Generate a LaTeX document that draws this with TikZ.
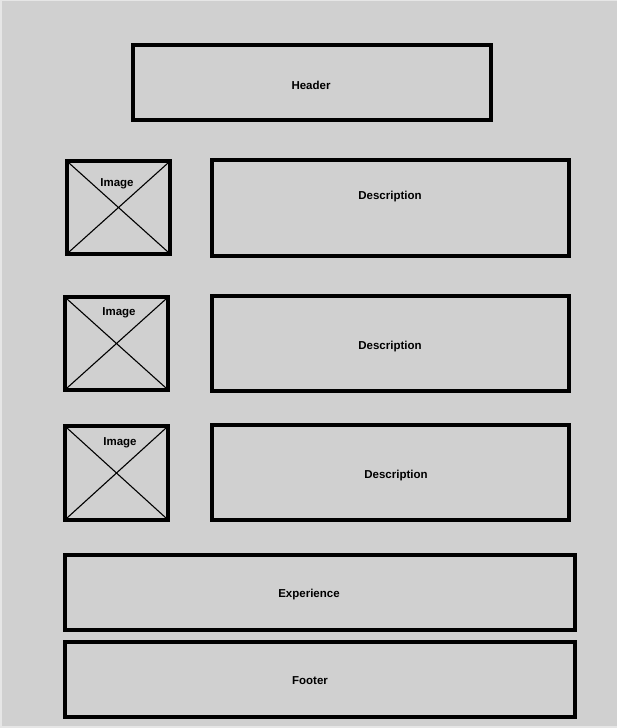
\documentclass[tikz,border=0pt]{standalone}
\usepackage{fontspec}
\setmainfont{Liberation Sans}
\begin{document}
\begin{tikzpicture}[x=1pt,y=-1pt,
  frame/.style={draw=black,line width=4pt},
  cross/.style={draw=black,line width=1.1pt},
  lbl/.style={font=\bfseries\fontsize{11.5}{13}\selectfont,text=black,inner sep=0pt,anchor=base}]
\definecolor{pagebg}{HTML}{D0D0D0}
\definecolor{edgebg}{HTML}{E6E6E6}
% page
\fill[edgebg] (0,0) rectangle (617,728);
\fill[pagebg] (2,1) rectangle (617,726);
\useasboundingbox (0,0) rectangle (617,728);

% header
\draw[frame] (133,45) rectangle (491,120);
\node[lbl] (header) at (311,89.5) {Header};

% image placeholders with crosses
\draw[frame] (67,161) rectangle (170,254);
\draw[cross] (69,163) -- (168,252) (168,163) -- (69,252);
\node[lbl] (img1) at (117,186) {Image};

\draw[frame] (65,297) rectangle (168,390);
\draw[cross] (67,299) -- (166,388) (166,299) -- (67,388);
\node[lbl] (img2) at (119,315) {Image};

\draw[frame] (65,426) rectangle (168,520);
\draw[cross] (67,428) -- (166,518) (166,428) -- (67,518);
\node[lbl] (img3) at (120,445) {Image};

% descriptions
\draw[frame] (212,160) rectangle (569,256);
\node[lbl] (desc1) at (390,199) {Description};
\draw[frame] (212,296) rectangle (569,391);
\node[lbl] (desc2) at (390,349) {Description};
\draw[frame] (212,425) rectangle (569,520);
\node[lbl] (desc3) at (396,478) {Description};

% experience and footer
\draw[frame] (65,555) rectangle (575,630);
\node[lbl] (exp) at (309,597) {Experience};
\draw[frame] (65,642) rectangle (575,717);
\node[lbl] (footer) at (310,684) {Footer};
\end{tikzpicture}
\end{document}
